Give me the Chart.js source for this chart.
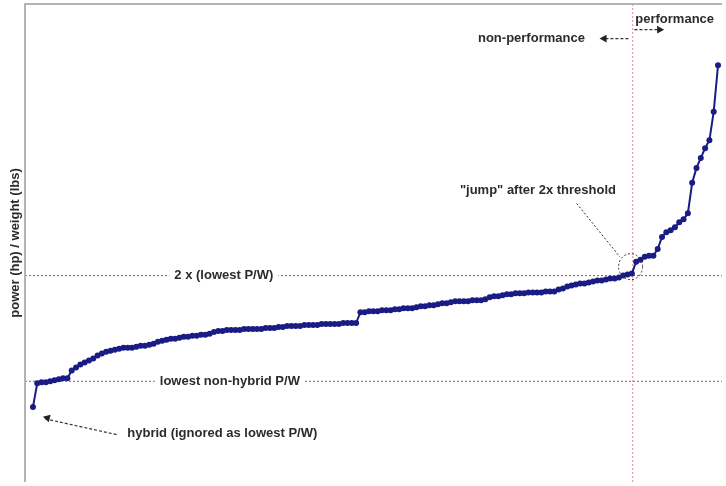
<!DOCTYPE html>
<html>
<head>
<meta charset="utf-8">
<script src="https://cdn.jsdelivr.net/npm/chart.js@4.4.0/dist/chart.umd.min.js"></script>
<style>
  html, body { margin: 0; padding: 0; background: #fff; overflow: hidden; }
  #wrap { width: 726px; height: 486px; }
</style>
</head>
<body>
<div id="wrap"><canvas id="chart1"></canvas></div>
<script>
// power / weight of each car (hp/lb), sorted low to high
const powerToWeight = [
  0.081, 0.105, 0.106, 0.106, 0.107, 0.108, 0.109, 0.110, 0.110, 0.118,
  0.121, 0.124, 0.126, 0.128, 0.130, 0.133, 0.135, 0.137, 0.138, 0.139,
  0.140, 0.141, 0.141, 0.141, 0.142, 0.143, 0.143, 0.144, 0.145, 0.147,
  0.148, 0.149, 0.150, 0.150, 0.151, 0.152, 0.152, 0.153, 0.153, 0.154,
  0.154, 0.155, 0.157, 0.158, 0.158, 0.159, 0.159, 0.159, 0.159, 0.160,
  0.160, 0.160, 0.160, 0.160, 0.161, 0.161, 0.161, 0.162, 0.162, 0.163,
  0.163, 0.163, 0.163, 0.164, 0.164, 0.164, 0.164, 0.165, 0.165, 0.165,
  0.165, 0.165, 0.166, 0.166, 0.166, 0.166, 0.177, 0.177, 0.178, 0.178,
  0.178, 0.179, 0.179, 0.179, 0.180, 0.180, 0.181, 0.181, 0.181, 0.182,
  0.183, 0.183, 0.184, 0.184, 0.185, 0.186, 0.186, 0.187, 0.188, 0.188,
  0.188, 0.188, 0.189, 0.189, 0.189, 0.190, 0.192, 0.193, 0.193, 0.194,
  0.195, 0.195, 0.196, 0.196, 0.196, 0.197, 0.197, 0.197, 0.197, 0.198,
  0.198, 0.198, 0.200, 0.201, 0.203, 0.204, 0.205, 0.206, 0.206, 0.207,
  0.208, 0.209, 0.209, 0.210, 0.211, 0.211, 0.212, 0.214, 0.215, 0.216,
  0.228, 0.230, 0.233, 0.234, 0.234, 0.241, 0.253, 0.258, 0.260, 0.263,
  0.268, 0.271, 0.277, 0.308, 0.323, 0.333, 0.343, 0.351, 0.380, 0.427
];

// lowest non-hybrid P/W and 2 x that
const thresholds = [0.107, 0.214];
const thresholdLabels = ['lowest non-hybrid P/W', '2 x (lowest P/W)'];

// split between non-performance and performance cars (car index)
const performanceCut = 139.2;

const xRange = [-1.846, 159.923];
const yRange = [0.005, 0.489];

const FONT_FAMILY = '"Liberation Sans", Arial, sans-serif';
const TEXT_FONT = 'bold 13px ' + FONT_FAMILY;
const TEXT_COLOR = '#2b2b2b';

function arrowHead(ctx, x1, y1, x2, y2, size) {
  const a = Math.atan2(y2 - y1, x2 - x1);
  ctx.beginPath();
  ctx.moveTo(x2, y2);
  ctx.lineTo(x2 - size * Math.cos(a - 0.5), y2 - size * Math.sin(a - 0.5));
  ctx.lineTo(x2 - size * Math.cos(a + 0.5), y2 - size * Math.sin(a + 0.5));
  ctx.closePath();
  ctx.fill();
}

function dashedLine(ctx, x1, y1, x2, y2) {
  ctx.beginPath();
  ctx.moveTo(x1, y1);
  ctx.lineTo(x2, y2);
  ctx.stroke();
}

const notesPlugin = {
  id: 'notes',
  afterDatasetsDraw(chart) {
    const ctx = chart.ctx;
    const area = chart.chartArea;
    const px = (i) => chart.scales.x.getPixelForValue(i);
    const py = (v) => chart.scales.y.getPixelForValue(v);

    ctx.save();
    // frame: top and left
    ctx.strokeStyle = '#b4b4b4';
    ctx.lineWidth = 2;
    ctx.beginPath();
    ctx.moveTo(area.left, area.bottom);
    ctx.lineTo(area.left, area.top);
    ctx.lineTo(area.right, area.top);
    ctx.stroke();

    ctx.font = TEXT_FONT;
    ctx.textBaseline = 'middle';

    // labels sitting on the threshold lines, with a gap cut in the line
    const labelAt = [45.7, 44.3];
    thresholds.forEach((t, k) => {
      const w = ctx.measureText(thresholdLabels[k]).width;
      const x = px(labelAt[k]);
      const y = py(t);
      ctx.fillStyle = '#fff';
      ctx.fillRect(x - w / 2 - 5, y - 7, w + 10, 14);
      ctx.fillStyle = TEXT_COLOR;
      ctx.textAlign = 'center';
      ctx.fillText(thresholdLabels[k], x, y);
    });

    ctx.fillStyle = TEXT_COLOR;
    ctx.textAlign = 'left';
    ctx.fillText('performance', px(139.8), py(0.473));
    ctx.fillText('hybrid (ignored as lowest P/W)', px(21.9), py(0.054));
    ctx.textAlign = 'right';
    ctx.fillText('non-performance', px(128.1), py(0.454));
    ctx.textAlign = 'center';
    ctx.fillText('"jump" after 2x threshold', px(117.2), py(0.300));

    ctx.strokeStyle = '#333';
    ctx.lineWidth = 1.2;
    ctx.setLineDash([3, 2]);
    dashedLine(ctx, px(139.6), py(0.463), px(146.0), py(0.463));
    dashedLine(ctx, px(138.2), py(0.454), px(132.0), py(0.454));
    dashedLine(ctx, px(19.4), py(0.053), px(2.8), py(0.069));
    ctx.setLineDash([2, 2]);
    ctx.lineWidth = 1;
    dashedLine(ctx, px(126.2), py(0.287), px(136.2), py(0.233));
    ctx.beginPath();
    ctx.ellipse(px(138.7), py(0.223), 12, 13, 0, 0, Math.PI * 2);
    ctx.stroke();
    ctx.setLineDash([]);

    ctx.fillStyle = '#222';
    arrowHead(ctx, px(139.6), py(0.463), px(146.5), py(0.463), 8);
    arrowHead(ctx, px(138.2), py(0.454), px(131.5), py(0.454), 8);
    arrowHead(ctx, px(19.4), py(0.053), px(2.3), py(0.071), 8);
    ctx.restore();
  }
};

function graphData() {
  const points = powerToWeight.map((v, i) => ({ x: i, y: v }));
  const thresholdSets = thresholds.map((t) => ({
    data: [{ x: xRange[0], y: t }, { x: xRange[1], y: t }],
    borderColor: '#6a6a6a',
    borderWidth: 1,
    borderDash: [2, 2],
    pointRadius: 0,
    order: 2
  }));

  new Chart(document.getElementById('chart1'), {
    type: 'line',
    data: {
      datasets: [{
        label: 'power / weight',
        data: points,
        borderColor: '#1b1b85',
        backgroundColor: '#1b1b85',
        borderWidth: 2,
        pointRadius: 3,
        pointBorderWidth: 0,
        order: 0
      }, ...thresholdSets, {
        data: [{ x: performanceCut, y: yRange[0] }, { x: performanceCut, y: yRange[1] }],
        borderColor: 'rgba(230, 100, 115, 0.8)',
        borderWidth: 1,
        borderDash: [2, 2],
        pointRadius: 0,
        order: 1
      }]
    },
    options: {
      responsive: true,
      maintainAspectRatio: false,
      animation: false,
      layout: { padding: 0 },
      plugins: {
        legend: { display: false },
        tooltip: { enabled: false }
      },
      scales: {
        x: {
          type: 'linear',
          min: xRange[0],
          max: xRange[1],
          display: false
        },
        y: {
          min: yRange[0],
          max: yRange[1],
          ticks: { display: false },
          grid: { display: false },
          border: { display: false },
          title: {
            display: true,
            text: 'power (hp) / weight (lbs)',
            color: TEXT_COLOR,
            font: { family: FONT_FAMILY, size: 13, weight: 'bold' },
            padding: { top: 8, bottom: 0 }
          },
          afterFit: (scale) => { scale.width = 25; }
        }
      }
    },
    plugins: [notesPlugin]
  });
}

graphData();
</script>
</body>
</html>
